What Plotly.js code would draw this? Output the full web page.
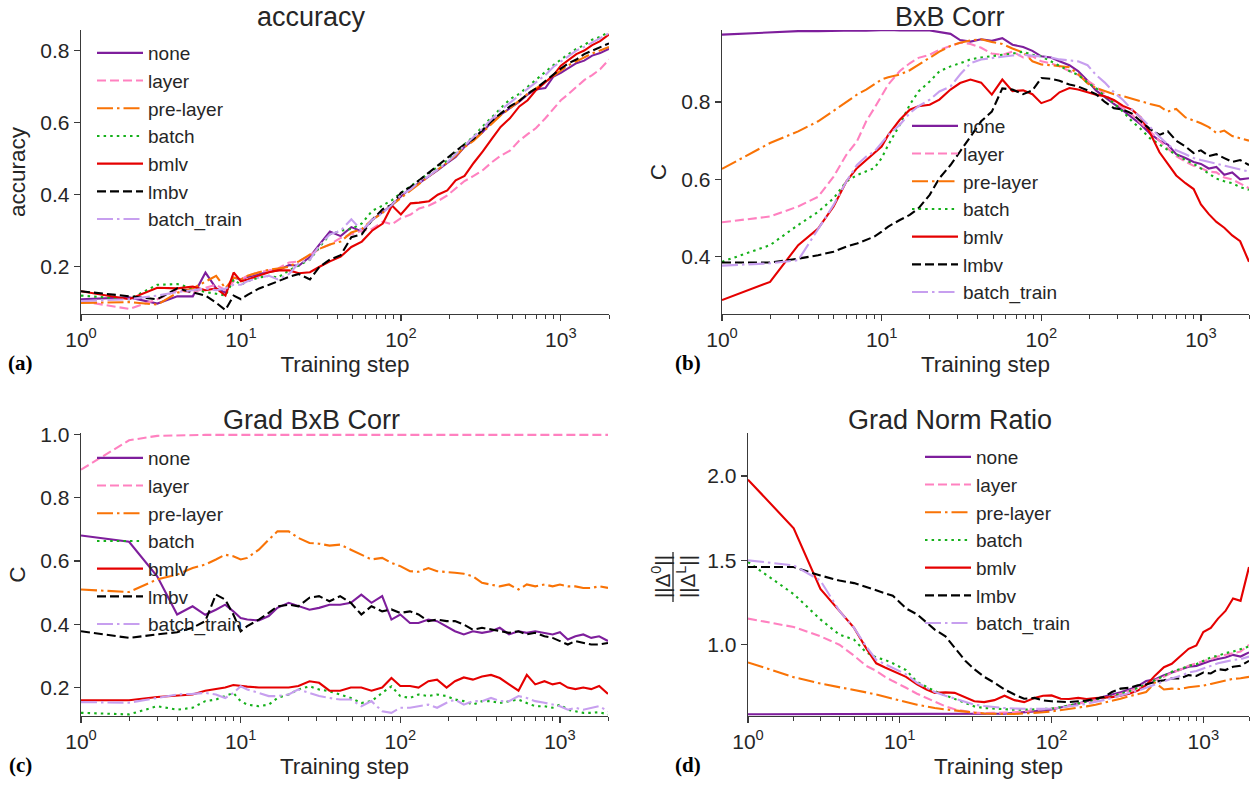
<!DOCTYPE html>
<html><head><meta charset="utf-8">
<script src="https://cdn.plot.ly/plotly-3.0.1.min.js"></script>
<style>html,body{margin:0;padding:0;background:#fff}#chart{width:1254px;height:787px}</style>
</head><body><div id="chart"></div>
<script>
// ---------------- data ----------------
const steps = [1,2,3,4,5,6,7,8,9,10, 11,13,15,17,20,23,27,31,36,42,
  49,57,66,77,88,100,115,130,150,170, 195,220,250,285,325,370,420,480,550,620,
  700,800,900,1000,1120,1250,1400,1570,1760,2000];
const seriesNames = ['none','layer','pre-layer','batch','bmlv','lmbv','batch_train'];
const xTickVals = [1,10,100,1000];
const xTickText = ['10<sup>0</sup>','10<sup>1</sup>','10<sup>2</sup>','10<sup>3</sup>'];
const panelTitles = ['accuracy','BxB Corr','Grad BxB Corr','Grad Norm Ratio'];
const panelLetters = ['(a)','(b)','(c)','(d)'];

// (a) accuracy
const accNone = [0.110,0.115,0.098,0.118,0.118,0.184,0.140,0.128,0.170,0.165,
 0.172,0.180,0.186,0.190,0.205,0.203,0.228,0.262,0.298,0.285,
 0.310,0.298,0.330,0.352,0.372,0.395,0.418,0.432,0.450,0.468,
 0.488,0.505,0.533,0.552,0.574,0.602,0.622,0.640,0.658,0.678,
 0.692,0.696,0.728,0.738,0.752,0.765,0.772,0.786,0.793,0.805];
const accLayer = [0.105,0.083,0.110,0.135,0.128,0.142,0.150,0.135,0.160,0.165,
 0.175,0.185,0.190,0.195,0.212,0.215,0.232,0.250,0.262,0.280,
 0.290,0.300,0.305,0.325,0.318,0.335,0.345,0.362,0.370,0.382,
 0.398,0.418,0.438,0.452,0.468,0.490,0.508,0.522,0.550,0.568,
 0.585,0.612,0.640,0.662,0.680,0.700,0.718,0.732,0.748,0.775];
const accPre = [0.100,0.102,0.095,0.128,0.140,0.160,0.175,0.140,0.170,0.165,
 0.175,0.185,0.192,0.195,0.200,0.215,0.235,0.250,0.262,0.270,
 0.295,0.305,0.330,0.350,0.372,0.392,0.412,0.430,0.452,0.470,
 0.490,0.508,0.532,0.550,0.573,0.598,0.620,0.640,0.662,0.680,
 0.695,0.712,0.730,0.745,0.760,0.770,0.782,0.792,0.800,0.810];
const accBatch = [0.120,0.110,0.150,0.152,0.140,0.130,0.125,0.120,0.165,0.150,
 0.160,0.170,0.175,0.170,0.190,0.205,0.220,0.255,0.290,0.300,
 0.305,0.320,0.355,0.370,0.385,0.405,0.425,0.440,0.460,0.478,
 0.495,0.515,0.540,0.562,0.590,0.615,0.642,0.665,0.680,0.700,
 0.720,0.740,0.760,0.775,0.790,0.805,0.815,0.830,0.838,0.852];
const accBmlv = [0.132,0.110,0.142,0.140,0.145,0.135,0.140,0.120,0.184,0.160,
 0.165,0.175,0.185,0.190,0.190,0.182,0.185,0.200,0.215,0.228,
 0.255,0.270,0.300,0.320,0.370,0.345,0.376,0.378,0.382,0.400,
 0.412,0.440,0.452,0.488,0.520,0.555,0.588,0.612,0.645,0.662,
 0.690,0.712,0.732,0.758,0.775,0.790,0.800,0.815,0.826,0.845];
const accLmbv = [0.132,0.118,0.110,0.140,0.130,0.120,0.100,0.080,0.120,0.110,
 0.122,0.140,0.150,0.160,0.172,0.180,0.165,0.200,0.220,0.232,
 0.282,0.290,0.330,0.360,0.372,0.405,0.422,0.440,0.462,0.480,
 0.500,0.520,0.540,0.555,0.580,0.605,0.625,0.645,0.660,0.680,
 0.695,0.715,0.735,0.750,0.765,0.775,0.790,0.800,0.810,0.820];
const accTrain = [0.105,0.110,0.120,0.130,0.135,0.140,0.135,0.140,0.150,0.150,
 0.160,0.170,0.175,0.165,0.180,0.210,0.220,0.260,0.290,0.300,
 0.332,0.300,0.330,0.350,0.372,0.400,0.415,0.435,0.452,0.470,
 0.490,0.512,0.535,0.560,0.585,0.610,0.635,0.655,0.675,0.695,
 0.712,0.732,0.755,0.770,0.785,0.800,0.810,0.822,0.835,0.848];

// (b) BxB Corr
const bxbNone = [0.974,0.979,0.983,0.983,0.984,0.985,0.985,0.984,0.985,0.985,
 0.986,0.985,0.986,0.985,0.985,0.980,0.976,0.960,0.956,0.962,
 0.958,0.965,0.948,0.942,0.932,0.918,0.915,0.905,0.895,0.880,
 0.855,0.830,0.812,0.795,0.778,0.760,0.742,0.718,0.700,0.690,
 0.665,0.655,0.645,0.640,0.628,0.632,0.612,0.618,0.600,0.603];
const bxbLayer = [0.489,0.504,0.530,0.555,0.607,0.663,0.698,0.750,0.784,0.815,
 0.845,0.880,0.900,0.914,0.922,0.935,0.944,0.953,0.950,0.940,
 0.925,0.922,0.930,0.915,0.918,0.905,0.900,0.892,0.880,0.870,
 0.855,0.840,0.820,0.800,0.785,0.767,0.745,0.724,0.700,0.680,
 0.660,0.646,0.635,0.629,0.620,0.618,0.605,0.600,0.590,0.577];
const bxbPre = [0.627,0.694,0.724,0.750,0.777,0.800,0.819,0.832,0.845,0.858,
 0.864,0.871,0.882,0.896,0.914,0.930,0.945,0.953,0.959,0.962,
 0.955,0.950,0.938,0.928,0.905,0.897,0.895,0.893,0.890,0.872,
 0.848,0.836,0.828,0.820,0.815,0.808,0.802,0.795,0.789,0.775,
 0.782,0.760,0.752,0.745,0.735,0.720,0.726,0.712,0.706,0.700];
const bxbBatch = [0.387,0.430,0.482,0.516,0.551,0.594,0.611,0.620,0.629,0.655,
 0.689,0.741,0.793,0.827,0.853,0.879,0.892,0.900,0.910,0.915,
 0.918,0.922,0.925,0.930,0.922,0.918,0.905,0.892,0.880,0.870,
 0.850,0.836,0.815,0.797,0.775,0.750,0.730,0.706,0.690,0.676,
 0.665,0.650,0.640,0.629,0.615,0.602,0.595,0.590,0.580,0.573];
const bxbBmlv = [0.288,0.335,0.430,0.473,0.530,0.594,0.629,0.650,0.668,0.685,
 0.715,0.754,0.780,0.789,0.793,0.806,0.832,0.849,0.858,0.850,
 0.819,0.858,0.828,0.830,0.820,0.797,0.806,0.825,0.836,0.832,
 0.825,0.819,0.815,0.805,0.790,0.780,0.760,0.720,0.670,0.640,
 0.610,0.590,0.575,0.535,0.510,0.490,0.475,0.455,0.440,0.387];
const bxbLmbv = [0.385,0.385,0.395,0.404,0.413,0.426,0.434,0.443,0.452,0.465,
 0.478,0.495,0.508,0.525,0.560,0.603,0.637,0.672,0.711,0.750,
 0.775,0.835,0.832,0.820,0.830,0.862,0.860,0.855,0.845,0.840,
 0.830,0.820,0.800,0.784,0.780,0.770,0.750,0.730,0.715,0.724,
 0.700,0.685,0.668,0.675,0.660,0.665,0.655,0.645,0.650,0.637];
const bxbTrain = [0.377,0.383,0.391,0.470,0.534,0.594,0.637,0.659,0.672,0.694,
 0.715,0.741,0.771,0.789,0.806,0.827,0.840,0.871,0.900,0.910,
 0.914,0.918,0.920,0.922,0.920,0.918,0.915,0.910,0.908,0.905,
 0.895,0.870,0.850,0.825,0.805,0.780,0.760,0.735,0.710,0.690,
 0.675,0.665,0.655,0.650,0.645,0.640,0.637,0.630,0.625,0.620];

// (c) Grad BxB Corr
const gcNone = [0.681,0.661,0.552,0.431,0.457,0.430,0.446,0.462,0.441,0.420,
 0.415,0.412,0.426,0.452,0.468,0.457,0.446,0.452,0.462,0.462,
 0.468,0.494,0.468,0.489,0.415,0.431,0.404,0.404,0.415,0.410,
 0.394,0.378,0.368,0.378,0.373,0.378,0.389,0.368,0.378,0.373,
 0.378,0.373,0.368,0.375,0.352,0.362,0.368,0.357,0.362,0.347];
const gcLayer = [0.889,0.982,0.996,0.998,0.999,0.999,0.999,0.999,0.999,0.999,
 0.999,0.999,0.999,0.999,0.999,0.999,0.999,0.999,0.999,0.999,
 0.999,0.999,0.999,0.999,0.999,0.999,0.999,0.999,0.999,0.999,
 0.999,0.999,0.999,0.999,0.999,0.999,0.999,0.999,0.999,0.999,
 0.999,0.999,0.999,0.999,0.999,0.999,0.999,0.999,0.999,0.999];
const gcPre = [0.510,0.502,0.542,0.557,0.578,0.589,0.605,0.620,0.615,0.605,
 0.610,0.636,0.668,0.694,0.694,0.673,0.657,0.655,0.649,0.652,
 0.636,0.620,0.605,0.610,0.594,0.584,0.568,0.566,0.578,0.568,
 0.566,0.563,0.560,0.552,0.531,0.526,0.520,0.526,0.510,0.526,
 0.520,0.526,0.520,0.526,0.520,0.520,0.515,0.515,0.520,0.515];
const gcBatch = [0.120,0.115,0.141,0.130,0.136,0.157,0.162,0.173,0.183,0.157,
 0.146,0.141,0.146,0.167,0.178,0.194,0.204,0.194,0.188,0.178,
 0.167,0.151,0.157,0.183,0.204,0.173,0.167,0.178,0.173,0.178,
 0.173,0.162,0.157,0.146,0.157,0.157,0.151,0.157,0.162,0.151,
 0.141,0.141,0.136,0.146,0.130,0.125,0.120,0.120,0.122,0.115];
const gcBmlv = [0.160,0.160,0.170,0.175,0.178,0.190,0.195,0.200,0.208,0.205,
 0.203,0.200,0.200,0.200,0.200,0.205,0.220,0.215,0.190,0.190,
 0.200,0.200,0.190,0.200,0.230,0.205,0.205,0.200,0.220,0.225,
 0.200,0.220,0.232,0.225,0.235,0.240,0.230,0.210,0.190,0.240,
 0.210,0.220,0.210,0.215,0.200,0.195,0.200,0.195,0.205,0.180];
const gcLmbv = [0.378,0.357,0.368,0.375,0.389,0.410,0.494,0.478,0.431,0.378,
 0.394,0.415,0.436,0.457,0.462,0.457,0.484,0.489,0.473,0.489,
 0.468,0.431,0.457,0.441,0.447,0.436,0.441,0.431,0.410,0.415,
 0.410,0.410,0.399,0.383,0.389,0.383,0.378,0.373,0.378,0.368,
 0.373,0.362,0.357,0.347,0.336,0.347,0.341,0.336,0.336,0.341];
const gcTrain = [0.154,0.152,0.167,0.178,0.180,0.183,0.178,0.167,0.183,0.204,
 0.194,0.183,0.173,0.173,0.178,0.194,0.183,0.173,0.167,0.162,
 0.162,0.141,0.157,0.125,0.120,0.136,0.136,0.141,0.146,0.136,
 0.152,0.162,0.146,0.157,0.157,0.167,0.157,0.157,0.173,0.167,
 0.157,0.152,0.146,0.141,0.130,0.136,0.130,0.136,0.141,0.125];

// (d) Grad Norm Ratio
const gnNone = [0.588,0.588,0.588,0.588,0.588,0.588,0.588,0.588,0.588,0.588,
 0.588,0.588,0.588,0.588,0.588,0.588,0.588,0.588,0.588,0.589,
 0.592,0.596,0.600,0.605,0.610,0.617,0.628,0.640,0.652,0.665,
 0.678,0.690,0.702,0.718,0.735,0.755,0.785,0.795,0.820,0.835,
 0.850,0.870,0.875,0.890,0.905,0.915,0.925,0.940,0.930,0.955];
const gnLayer = [1.155,1.105,1.050,1.000,0.935,0.875,0.845,0.810,0.785,0.765,
 0.745,0.710,0.685,0.665,0.635,0.618,0.605,0.598,0.595,0.595,
 0.598,0.600,0.605,0.610,0.615,0.620,0.628,0.638,0.650,0.660,
 0.670,0.683,0.695,0.708,0.725,0.745,0.765,0.790,0.810,0.835,
 0.850,0.875,0.890,0.900,0.915,0.930,0.940,0.950,0.960,1.000];
const gnPre = [0.895,0.808,0.770,0.750,0.733,0.718,0.705,0.690,0.680,0.670,
 0.660,0.645,0.635,0.625,0.617,0.610,0.603,0.598,0.593,0.590,
 0.590,0.590,0.592,0.595,0.600,0.605,0.612,0.618,0.625,0.635,
 0.645,0.655,0.665,0.680,0.695,0.710,0.720,0.775,0.735,0.740,
 0.738,0.748,0.752,0.758,0.768,0.778,0.785,0.798,0.802,0.810];
const gnBatch = [1.490,1.300,1.150,1.060,1.030,0.955,0.925,0.910,0.890,0.870,
 0.850,0.780,0.750,0.725,0.700,0.680,0.655,0.635,0.625,0.620,
 0.618,0.615,0.615,0.617,0.620,0.622,0.630,0.640,0.650,0.660,
 0.672,0.685,0.695,0.710,0.725,0.745,0.765,0.790,0.815,0.840,
 0.855,0.875,0.885,0.905,0.925,0.935,0.950,0.960,0.975,0.990];
const gnBmlv = [1.978,1.690,1.330,1.200,1.100,0.980,0.890,0.865,0.845,0.830,
 0.810,0.765,0.735,0.715,0.718,0.715,0.690,0.665,0.660,0.672,
 0.698,0.672,0.660,0.685,0.698,0.700,0.680,0.679,0.685,0.679,
 0.685,0.688,0.690,0.698,0.710,0.728,0.760,0.817,0.867,0.887,
 0.930,0.976,0.996,1.075,1.100,1.155,1.200,1.274,1.260,1.460];
const gnLmbv = [1.460,1.460,1.410,1.380,1.365,1.340,1.320,1.305,1.290,1.250,
 1.215,1.180,1.130,1.090,1.050,0.980,0.905,0.855,0.810,0.775,
 0.735,0.705,0.680,0.685,0.670,0.665,0.660,0.660,0.665,0.670,
 0.680,0.690,0.720,0.740,0.745,0.760,0.765,0.780,0.790,0.800,
 0.800,0.820,0.815,0.835,0.830,0.855,0.850,0.870,0.875,0.905];
const gnTrain = [1.500,1.470,1.380,1.200,1.100,0.990,0.910,0.885,0.862,0.845,
 0.825,0.775,0.745,0.720,0.698,0.680,0.660,0.645,0.637,0.630,
 0.625,0.622,0.620,0.619,0.620,0.622,0.628,0.635,0.642,0.650,
 0.660,0.672,0.685,0.698,0.712,0.728,0.745,0.765,0.785,0.800,
 0.815,0.835,0.845,0.860,0.875,0.890,0.900,0.910,0.915,0.930];

// ---------------- style ----------------
const colors = ['#7e1e9c','#ff81c0','#f97306','#15b01a','#e50000','#000000','#c79fef'];
const dashes = ['solid','9px,4px','16px,4px,2.5px,4px','2.5px,4.1px','solid','9px,4px','16px,4px,2.5px,4px'];
const W = 1254, H = 787;
const px = v => v / W, py = v => 1 - v / H;
const INK = '#262626', AX = '#3a3a3a';

const panels = [
  {series:[accNone,accLayer,accPre,accBatch,accBmlv,accLmbv,accTrain], x:[81,609], y:[30,314],
   yr:[0.069,0.857], yt:[0.2,0.4,0.6,0.8], ytitle:'accuracy', leg:[92,34], title:[311,17], letter:[20,363]},
  {series:[bxbNone,bxbLayer,bxbPre,bxbBatch,bxbBmlv,bxbLmbv,bxbTrain], x:[722,1249], y:[30,314],
   yr:[0.252,0.986], yt:[0.4,0.6,0.8], ytitle:'C', leg:[907,107], title:[950,17], letter:[688,363]},
  {series:[gcNone,gcLayer,gcPre,gcBatch,gcBmlv,gcLmbv,gcTrain], x:[81,608], y:[433,716],
   yr:[0.11,1.005], yt:[0.2,0.4,0.6,0.8,1.0], ytitle:'C', leg:[92,439], title:[311,420], letter:[20,765]},
  {series:[gnNone,gnLayer,gnPre,gnBatch,gnBmlv,gnLmbv,gnTrain], x:[748,1249], y:[433,716],
   yr:[0.578,2.254], yt:[1.0,1.5,2.0], ytitle:'', leg:[920,438], title:[950,420], letter:[688,765]}
];

const minorVals = [];
for (let d = 1; d <= 1000; d *= 10) for (let k = 2; k <= 9; k++) if (k*d <= 2000) minorVals.push(k*d);

const traces = [];
const layout = {
  width: W, height: H, margin:{l:0,r:0,t:0,b:0}, paper_bgcolor:'#fff', plot_bgcolor:'#fff',
  font:{family:'Liberation Sans, Arial, sans-serif', size:20, color:INK},
  showlegend:true, annotations:[], shapes:[]
};

panels.forEach((p, i) => {
  const s = i === 0 ? '' : String(i+1);
  const legName = 'legend' + s;
  p.series.forEach((vals, j) => {
    traces.push({
      x: steps, y: vals, type:'scatter', mode:'lines', name: seriesNames[j],
      xaxis:'x'+s, yaxis:'y'+s, legend: legName,
      line:{color:colors[j], width:2.1, dash:dashes[j]}
    });
  });
  layout['xaxis'+s] = {
    domain:[px(p.x[0]), px(p.x[1])], anchor:'y'+s, type:'log', range:[0, Math.log10(2000)],
    tickvals:xTickVals, ticktext:xTickText, ticks:'outside', ticklen:6, tickwidth:1.3, tickcolor:AX,
    showline:true, linecolor:AX, linewidth:1.3, showgrid:false, zeroline:false,
    minor:{tickvals:minorVals, ticks:'outside', ticklen:3.5, tickwidth:1, tickcolor:AX, showgrid:false},
    tickfont:{size:21, color:INK},
    title:{text:'Training step', font:{size:22.5, color:INK}, standoff:6}
  };
  layout['yaxis'+s] = {
    domain:[py(p.y[1]), py(p.y[0])], anchor:'x'+s, range:p.yr, tickvals:p.yt, tickformat:'.1f',
    ticks:'outside', ticklen:6, tickwidth:1.3, tickcolor:AX,
    showline:true, linecolor:AX, linewidth:1.3, showgrid:false, zeroline:false,
    tickfont:{size:21, color:INK},
    title:{text:p.ytitle, font:{size:22.5, color:INK}, standoff:8}
  };
  layout[legName] = {
    x:px(p.leg[0]), y:py(p.leg[1]), xanchor:'left', yanchor:'top', bgcolor:'rgba(0,0,0,0)',
    borderwidth:0, font:{size:19, color:INK}, itemwidth:46, tracegroupgap:0
  };
  layout.annotations.push({
    text:panelTitles[i], x:px(p.title[0]), y:py(p.title[1]), xref:'paper', yref:'paper',
    xanchor:'center', yanchor:'middle', showarrow:false, font:{size:27, color:INK}
  });
  layout.annotations.push({
    text:'<b>'+panelLetters[i]+'</b>', x:px(p.letter[0]), y:py(p.letter[1]), xref:'paper', yref:'paper',
    xanchor:'center', yanchor:'middle', showarrow:false,
    font:{family:'Liberation Serif, Times New Roman, serif', size:21, color:'#000'}
  });
});

// fraction y-title of panel (d)
layout.annotations.push({text:'||Δ<sup>0</sup>||', x:px(661), y:py(577), xref:'paper', yref:'paper',
  xanchor:'center', yanchor:'middle', textangle:-90, showarrow:false, font:{size:20.5, color:INK}});
layout.annotations.push({text:'||Δ<sup>L</sup>||', x:px(686), y:py(577), xref:'paper', yref:'paper',
  xanchor:'center', yanchor:'middle', textangle:-90, showarrow:false, font:{size:20.5, color:INK}});
layout.shapes.push({type:'line', xref:'paper', yref:'paper', x0:px(673), x1:px(673), y0:py(552), y1:py(602),
  line:{color:INK, width:1.3}});

Plotly.newPlot('chart', traces, layout, {displayModeBar:false, staticPlot:true});
</script>
</body></html>
